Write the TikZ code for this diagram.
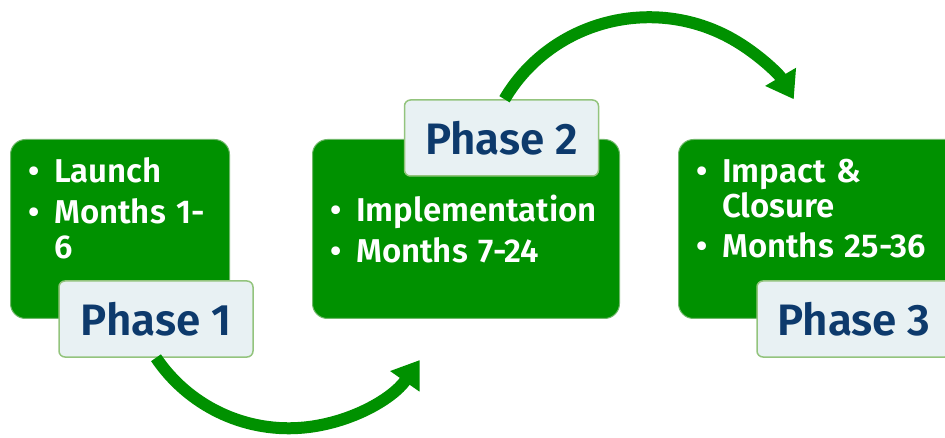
\documentclass[tikz,border=0pt]{standalone}
\usepackage{fontspec}
\setmainfont{Fira Sans}[BoldFont={Fira Sans SemiBold}]
\usetikzlibrary{arrows.meta}
\definecolor{boxgreen}{HTML}{009100}
\definecolor{boxedge}{HTML}{6FB86A}
\definecolor{labfill}{HTML}{E8F1F3}
\definecolor{labedge}{HTML}{93C47D}
\definecolor{labtext}{HTML}{0D3A6C}
\newcommand\bitem[1]{\hangindent=26pt\hangafter=1\noindent\makebox[26pt][l]{•}#1\par}
\begin{document}
\begin{tikzpicture}[x=1pt,y=-1pt,
  greenbox/.style={draw=boxedge, line width=1pt, fill=boxgreen, rounded corners=15pt, minimum height=179pt, inner sep=0pt, anchor=north west},
  phaselabel/.style={draw=labedge, line width=1.5pt, fill=labfill, rounded corners=6pt, minimum width=194pt, minimum height=76pt, inner sep=0pt, text=labtext, font=\bfseries\fontsize{44}{48}\selectfont},
  bullettext/.style={text=white, inner sep=0pt, anchor=base west, font=\bfseries\fontsize{33}{35}\selectfont},
  flowarrow/.style={draw=boxgreen, line width=12pt, -{Triangle[width=34pt,length=26pt]}}]
\useasboundingbox (0,0) rectangle (945,438);
\clip (0,0) rectangle (945,438);
% green boxes
\node[greenbox, minimum width=219pt] (b1) at (10,139) {};
\node[greenbox, minimum width=307pt] (b2) at (312,139) {};
\node[greenbox, minimum width=300pt] (b3) at (678,139) {};
% texts
\node[bullettext, text width=200pt] (t1) at (28,183) {\raggedright\parskip=6pt\bitem{Launch}\bitem{Months 1-\newline 6}};
\node[bullettext, text width=300pt] (t2) at (330,222) {\raggedright\parskip=6pt\bitem{Implementation}\bitem{Months 7-24}};
\node[bullettext, text width=270pt] (t3) at (696,183) {\raggedright\parskip=5pt\bitem{Impact \&\newline Closure}\bitem{Months 25-36}};
% labels
\node[phaselabel] (p1) at (156,319) {Phase 1};
\node[phaselabel] (p2) at (501.5,138) {Phase 2};
\node[phaselabel] (p3) at (854,319) {Phase 3};
% arrows
\draw[flowarrow] (p1.south) arc[start angle=146, end angle=35, radius=160];
\draw[flowarrow] ([xshift=3pt]p2.north) arc[start angle=210, end angle=330, x radius=167, y radius=164];
\end{tikzpicture}
\end{document}
